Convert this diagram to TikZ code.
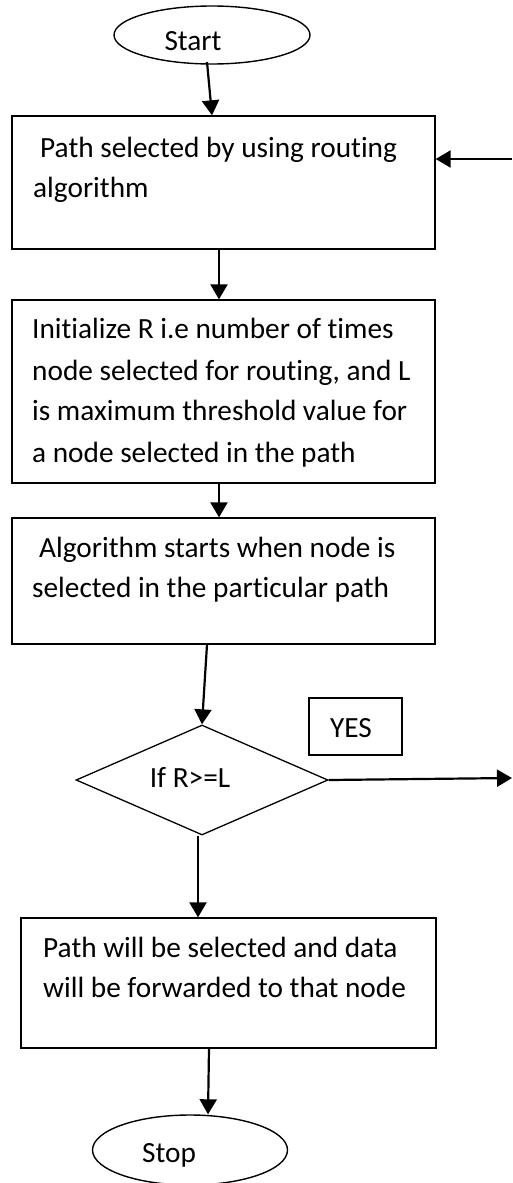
\documentclass[tikz,border=0pt]{standalone}
\usepackage{fontspec}
\setmainfont[Ligatures=NoCommon]{Carlito}
\usetikzlibrary{shapes.geometric,arrows.meta}
\begin{document}
\begin{tikzpicture}[x=1pt,y=-1pt,
  box/.style={draw=black,line width=1.3pt,rectangle,inner sep=0pt},
  oval/.style={draw=black,line width=1.4pt,ellipse,inner sep=0pt},
  dia/.style={draw=black,line width=1.3pt,diamond,inner sep=0pt,minimum width=252pt,minimum height=110pt},
  line/.style={font=\fontsize{29.3}{40}\selectfont,anchor=base west,inner sep=0pt},
  ctext/.style={font=\fontsize{29.3}{40}\selectfont,anchor=base,inner sep=0pt},
  arr/.style={line width=2.2pt,-{Triangle[length=15pt,width=17pt]}}]
\useasboundingbox (0,0) rectangle (512,1183);
\fill[white] (0,0) rectangle (512,1183);
% shapes
\node[oval,minimum width=196pt,minimum height=58pt] (start) at (212,35) {};
\node[ctext] (starttxt) at (193,50) {Start};
\node[box,minimum width=423pt,minimum height=133pt] (b1) at (223.5,182.5) {};
\node[line] (t1a) at (40,157) {Path selected by using routing};
\node[line] (t1b) at (33,197) {algorithm};
\node[box,minimum width=423pt,minimum height=183pt] (b2) at (223.5,391.5) {};
\node[line] (t2a) at (32,338) {Initialize R i.e number of times};
\node[line] (t2b) at (32,380) {node selected for routing, and L};
\node[line] (t2c) at (32,420) {is maximum threshold value for};
\node[line] (t2d) at (32,462) {a node selected in the path};
\node[box,minimum width=423pt,minimum height=126pt] (b3) at (223.5,581) {};
\node[line] (t3a) at (39,557) {Algorithm starts when node is};
\node[line] (t3b) at (32,597) {selected in the particular path};
\node[dia] (d) at (202,780) {};
\node[ctext] (dtxt) at (190,787) {If R>=L};
\node[box,minimum width=93pt,minimum height=57pt] (yes) at (355.5,726.5) {};
\node[ctext] (yestxt) at (351,737) {YES};
\node[box,minimum width=415pt,minimum height=130pt] (b4) at (228.5,983) {};
\node[line] (t4a) at (43,957) {Path will be selected and data};
\node[line] (t4b) at (43,997) {will be forwarded to that node};
\node[oval,minimum width=195pt,minimum height=70pt] (stop) at (190,1150) {};
\node[ctext] (stoptxt) at (169,1162) {Stop};
% free ends
\coordinate (loopin) at (512,159);
\coordinate (yesout) at (512,778);
% connectors
\draw[arr] (207,62) -- (start.south |- b1.north);
\draw[arr] (loopin) -- (loopin -| b1.east);
\draw[arr] (b1.south -| 219,0) -- (b2.north -| 219,0);
\draw[arr] (b2.south -| 219,0) -- (b3.north -| 219,0);
\draw[arr] (b3.south -| 207,0) -- (d.north);
\draw[arr] (d.east) -- (yesout);
\draw[arr] (d.south -| 198,0) -- (b4.north -| 198,0);
\draw[arr] (b4.south -| 209,0) -- (stop.north -| 208,0);
\end{tikzpicture}
\end{document}
